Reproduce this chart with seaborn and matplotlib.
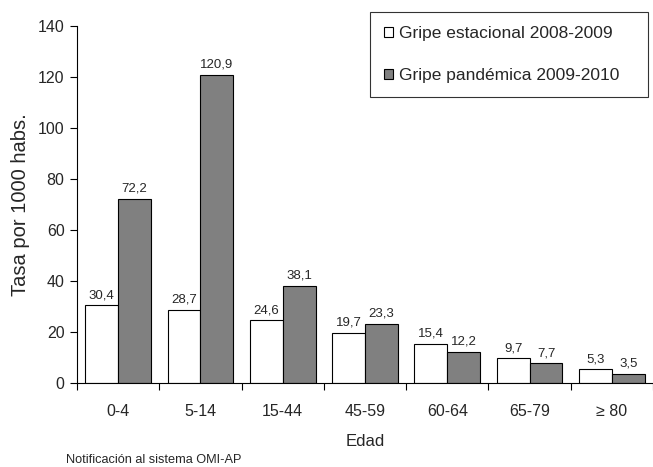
import matplotlib
matplotlib.use("Agg")
import matplotlib.pyplot as plt
import seaborn as sns
import pandas as pd

grupos = ["0-4", "5-14", "15-44", "45-59", "60-64", "65-79", "\u2265 80"]
estacional = [30.4, 28.7, 24.6, 19.7, 15.4, 9.7, 5.3]
pandemica = [72.2, 120.9, 38.1, 23.3, 12.2, 7.7, 3.5]
series = ["Gripe estacional 2008-2009", "Gripe pandémica 2009-2010"]
colores = ["#ffffff", "#808080"]
yticks = [0, 20, 40, 60, 80, 100, 120, 140]

df = pd.DataFrame({
    "Edad": grupos * 2,
    "Tasa": estacional + pandemica,
    "Serie": [series[0]] * len(grupos) + [series[1]] * len(grupos),
})

sns.set_style("white")
plt.rcParams["font.family"] = ["Liberation Sans", "DejaVu Sans"]

W, H = 653, 467
fig = plt.figure(figsize=(W / 100, H / 100), dpi=100)
ax = fig.add_axes([77 / W, 1 - 383 / H, 576 / W, 357 / H])

sns.barplot(data=df, x="Edad", y="Tasa", hue="Serie", order=grupos,
            hue_order=series, palette=colores, edgecolor="black",
            linewidth=0.8, width=0.8, ax=ax, saturation=1)

for cont in ax.containers:
    vals = [b.get_height() for b in cont]
    ax.bar_label(cont, labels=[f"{v:.1f}".replace(".", ",") for v in vals],
                 padding=3, fontsize=9.5)

ax.set_ylim(0, 140)
ax.set_xlim(-0.5, 6.5)
ax.set_yticks(yticks)
ax.set_yticklabels([str(t) for t in yticks], fontsize=11.5)
ax.set_xticks(range(len(grupos)))
ax.set_xticklabels(grupos, fontsize=11.5)
ax.set_xticks([i + 0.5 for i in range(-1, len(grupos))], minor=True)
ax.tick_params(axis="x", which="major", length=0, pad=15)
ax.tick_params(axis="x", which="minor", length=5, width=0.8, color="black",
               direction="out", bottom=True)
ax.tick_params(axis="y", length=5, width=0.8, color="black",
               direction="out", left=True, pad=4)

ax.set_ylabel("Tasa por 1000 habs.", fontsize=14.5)
ax.yaxis.set_label_coords(-0.082, 0.5)
ax.set_xlabel("Edad", fontsize=12, labelpad=11)

for s in ["top", "right"]:
    ax.spines[s].set_visible(False)
for s in ["left", "bottom"]:
    ax.spines[s].set_color("black")
    ax.spines[s].set_linewidth(0.8)

leg = fig.legend(*ax.get_legend_handles_labels(), loc="upper left",
                 bbox_to_anchor=(370 / W, 1 - 97 / H, 278 / W, 85 / H),
                 mode="expand", fontsize=12.5, frameon=True, fancybox=False,
                 handlelength=0.5, handleheight=0.5, handletextpad=0.35,
                 borderpad=0.82, labelspacing=1.55, borderaxespad=0)
leg.get_frame().set_edgecolor("black")
leg.get_frame().set_linewidth(0.8)
ax.get_legend().remove()

fig.text(66 / W, 4 / H, "Notificación al sistema OMI-AP", fontsize=9.2,
         va="baseline")

fig.savefig("out.png", dpi=100)
